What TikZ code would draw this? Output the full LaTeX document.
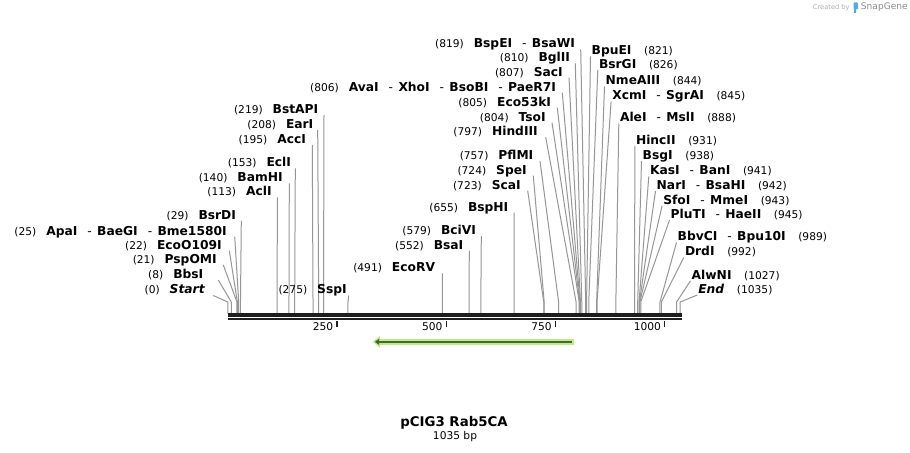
\documentclass[tikz,border=0pt]{standalone}
\usepackage{fontspec}
\setmainfont{DejaVu Sans}[
	ItalicFont={DejaVu Sans Oblique},
	BoldFont={DejaVu Sans Bold},
	BoldItalicFont={DejaVu Sans Bold Oblique}
]
\usetikzlibrary{
	arrows.meta
}
\definecolor{leadgray}{RGB}{150,150,150}
\definecolor{axisblack}{RGB}{30,30,30}
\definecolor{featgreen}{RGB}{182,242,122}
\definecolor{featdark}{RGB}{80,96,66}
\definecolor{markgray}{RGB}{175,175,175}
\definecolor{brandgray}{RGB}{140,140,140}
\definecolor{snapblue}{RGB}{80,170,230}

\newcommand\bpnum[1]{{\fontsize{8pt}{10pt}\selectfont\mdseries(#1)}}
\newcommand\nsep{\hspace{7.5pt}{\mdseries -}\hspace{4pt}}

\begin{document}
\begin{tikzpicture}[x=0.75pt,y=-0.75pt,
		lbl/.style={inner sep=0pt,outer sep=0pt,text depth=1.2pt,
			font=\fontsize{9.2pt}{11pt}\selectfont\bfseries},
		lblL/.style={lbl,anchor=south east},
		lblR/.style={lbl,anchor=south west},
		lead/.style={draw=leadgray,line width=0.75pt},
		ticklbl/.style={inner sep=0pt,anchor=east,font=\fontsize{8pt}{10pt}\selectfont}
	]
	\useasboundingbox[fill=white] (0,0) rectangle (910,453);

	% sites labelled on the left of their line
	\foreach \bp/\tx/\ly/\g/\name in {
			0/205/295.5/8.3/\textit{Start},
			8/203.3/280/15/BbsI,
			21/216.7/265/6.6/PspOMI,
			22/221.7/250.7/7.6/EcoO109I,
			25/226.7/236.7/8/ApaI\nsep BaeGI\nsep Bme1580I,
			29/236/220.7/5.3/BsrDI,
			113/271.7/197.3/5.6/AclI,
			140/282.7/183.3/6.6/BamHI,
			153/291/168.3/4.3/EclI,
			195/306/145/6.3/AccI,
			208/313.3/130/4.4/EarI,
			219/318.3/115/5.7/BstAPI,
			275/346.7/295.5/2/SspI,
			491/435/273.3/7.3/EcoRV,
			552/463.3/250.7/6/BsaI,
			579/476/236/5.3/BciVI,
			655/508.3/212.7/5.7/BspHI,
			723/520.7/190.7/7/ScaI,
			724/526.7/175.7/6.6/SpeI,
			757/533.3/161/6.7/PflMI,
			797/537.7/137.3/8/HindIII,
			804/545.7/122.7/6.3/TsoI,
			805/551/107.7/6.3/Eco53kI,
			806/556/92.7/6.3/AvaI\nsep XhoI\nsep BsoBI\nsep PaeR7I,
			807/562.7/77.7/6.3/SacI,
			810/570/63.3/5.3/BglII,
			819/575/49.3/5.7/BspEI\nsep BsaWI%
		}{
		\node[lblL] (site\bp) at (\tx,\ly) {\bpnum{\bp}\hspace{7.5pt}\name};
		\coordinate (knee\bp) at ({227.8+0.437*\bp},302);
		\coordinate (cut\bp) at ({227.8+0.437*\bp},313.5);
		\draw[lead] (site\bp.south east) ++(\g,0) -- (knee\bp) -- (cut\bp);
	}

	% sites labelled on the right of their line
	\foreach \bp/\tx/\ly/\name in {
			821/591.7/56.3/BpuEI,
			826/599/69.8/BsrGI,
			844/605.7/86.5/NmeAIII,
			845/612.3/101.5/XcmI\nsep SgrAI,
			888/620/123.5/AleI\nsep MslI,
			931/636/145.8/HincII,
			938/642.7/160.8/BsgI,
			941/650/176.3/KasI\nsep BanI,
			942/656.7/191/NarI\nsep BsaHI,
			943/663.3/205.8/SfoI\nsep MmeI,
			945/670.7/220.1/PluTI\nsep HaeII,
			989/677.7/242.5/BbvCI\nsep Bpu10I,
			992/685/257.5/DrdI,
			1027/691.7/280.8/AlwNI,
			1035/698.3/295.1/\textit{End}%
		}{
		\node[lblR] (site\bp) at (\tx,\ly) {\name\hspace{9.5pt}\bpnum{\bp}};
		\coordinate (knee\bp) at ({227.8+0.437*\bp},302);
		\coordinate (cut\bp) at ({227.8+0.437*\bp},313.5);
		\draw[lead] (site\bp.south west) ++(-1.2,0) -- (knee\bp) -- (cut\bp);
	}

	% sequence axis
	\coordinate (axL) at (228,315);
	\coordinate (axR) at (681.7,315);
	\draw[axisblack,line width=2.5pt] (axL) -- (axR);
	\draw[axisblack,line width=1.95pt] ([yshift=-3.1]axL) -- ([yshift=-3.1]axR);

	\foreach \t in {250,500,750,1000}{
		\coordinate (tick\t) at ({227.8+0.437*\t},321);
		\draw[axisblack,line width=1pt] (tick\t) -- ++(0,5.5);
		\node[ticklbl] (tlab\t) at ({227.8+0.437*\t-3.5},326.7) {\t};
	}

	% feature
	\coordinate (featR) at (574,341.8);
	\coordinate (featL) at (372.8,341.8);
	\draw[featgreen,line width=4.3pt,-{Triangle[length=5.3pt,width=8.5pt]}] (featR) -- (featL);
	\draw[featdark,line width=1.6pt,-{Triangle[length=3.3pt,width=4.5pt]}]
		([xshift=-1.7]featR) -- ([xshift=1.5]featL);

	% title
	\node[font=\fontsize{10pt}{12pt}\selectfont\bfseries] (title) at (454,423.3) {pCIG3 Rab5CA};
	\node[font=\fontsize{8pt}{10pt}\selectfont] (size) at (455,436.7) {1035 bp};

	% watermark
	\node[anchor=west,inner sep=0pt,text=markgray,font=\fontsize{5pt}{6pt}\selectfont]
		(made) at (812.7,7.5) {Created by};
	\fill[snapblue,rounded corners=0.8pt] (853.5,2.5) rectangle (858,9.5);
	\fill[snapblue] (853.5,8) rectangle (855.5,13);
	\node[anchor=west,inner sep=0pt,text=brandgray,font=\fontsize{6.8pt}{8pt}\selectfont]
		(brand) at (860.7,7.5) {SnapGene};
\end{tikzpicture}
\end{document}
